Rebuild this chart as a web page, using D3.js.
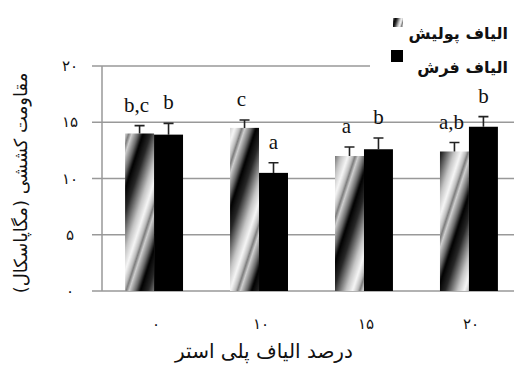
<!DOCTYPE html>
<html>
<head>
    <meta charset="utf-8">
    <title>Tensile strength chart</title>
    <style>
        body { margin: 0; padding: 0; background: #fff; }
        svg { display: block; }
        .fa { font-family: "DejaVu Sans", sans-serif; }
        .letter { font-family: "Liberation Serif", serif; font-size: 21px; fill: #111; }
    </style>
</head>
<body>
    <div id="chart"></div>

    <script src="https://d3js.org/d3.v7.min.js"></script>
    <script>
        // values
        const categories = ['۰', '۱۰', '۱۵', '۲۰'];
        const polishVals = [14.0, 14.5, 12.0, 12.4];
        const polishErr = [0.7, 0.7, 0.8, 0.8];
        const carpetVals = [13.9, 10.5, 12.6, 14.6];
        const carpetErr = [1.0, 0.9, 1.0, 0.9];
        const polishLetters = ['b,c', 'c', 'a', 'a,b'];
        const carpetLetters = ['b', 'a', 'b', 'b'];
        const yTicks = [0, 5, 10, 15, 20];
        const yTickLabels = ['۰', '۵', '۱۰', '۱۵', '۲۰'];
        const seriesNames = ['الیاف پولیش', 'الیاف فرش'];

        const width = 514, height = 369;
        const svg = d3.select('#chart').append('svg')
            .attr('width', width)
            .attr('height', height);

        const x0 = d3.scaleBand().domain(categories).range([102, 521]).paddingInner(0.448).paddingOuter(0.22);
        const x1 = d3.scaleBand().domain([0, 1]).range([0, x0.bandwidth()]);
        const y = d3.scaleLinear().domain([0, 20]).range([291, 66]);

        const defs = svg.append('defs');
        const grad = defs.append('linearGradient')
            .attr('id', 'stripe-g')
            .attr('x1', 0).attr('x2', 1).attr('y1', 0).attr('y2', 0);
        [[0, '#000'], [0.16, '#262626'], [0.42, '#c4c4c4'], [0.56, '#f6f6f6'],
         [0.66, '#bdbdbd'], [0.71, '#7a7a7a'], [0.77, '#cfcfcf'], [0.9, '#6a6a6a'], [1, '#000']]
            .forEach(s => grad.append('stop').attr('offset', s[0]).attr('stop-color', s[1]));

        function stripePattern(id, bx, by, w) {
            const p = defs.append('pattern')
                .attr('id', id)
                .attr('patternUnits', 'userSpaceOnUse')
                .attr('width', w).attr('height', 400)
                .attr('patternTransform', `translate(${bx - 4},${by - 20}) rotate(18)`);
            p.append('rect').attr('width', w).attr('height', 400).attr('fill', 'url(#stripe-g)');
            return `url(#${id})`;
        }

        // gridlines
        svg.append('g').selectAll('line')
            .data(yTicks)
            .enter().append('line')
            .attr('x1', 92)
            .attr('x2', d => d === 20 ? 370 : width)
            .attr('y1', d => y(d))
            .attr('y2', d => y(d))
            .attr('stroke', '#999')
            .attr('stroke-width', 1.5);

        // y axis line
        svg.append('line')
            .attr('x1', 102).attr('x2', 102)
            .attr('y1', y(20)).attr('y2', y(0))
            .attr('stroke', '#999')
            .attr('stroke-width', 1.5);

        // y tick labels
        svg.append('g').selectAll('text')
            .data(yTicks)
            .enter().append('text')
            .attr('class', 'fa')
            .attr('x', 70)
            .attr('y', d => y(d) + 5)
            .attr('text-anchor', 'middle')
            .attr('font-size', 15)
            .attr('fill', '#111')
            .text((d, i) => yTickLabels[i]);

        const groups = svg.append('g').selectAll('g')
            .data(categories)
            .enter().append('g')
            .attr('transform', d => `translate(${x0(d)},0)`);

        // polish (striped) bars
        groups.append('rect')
            .attr('x', x1(0))
            .attr('y', (d, i) => y(polishVals[i]))
            .attr('width', x1.bandwidth())
            .attr('height', (d, i) => y(0) - y(polishVals[i]))
            .attr('fill', (d, i) => stripePattern('st' + i, x0(d) + x1(0), y(polishVals[i]), 46));

        // carpet (black) bars
        groups.append('rect')
            .attr('x', x1(1))
            .attr('y', (d, i) => y(carpetVals[i]))
            .attr('width', x1.bandwidth())
            .attr('height', (d, i) => y(0) - y(carpetVals[i]))
            .attr('fill', '#000');

        // error bars
        function errBar(sel, idx, vals, errs) {
            const cx = x1(idx) + x1.bandwidth() / 2;
            sel.append('path')
                .attr('d', (d, i) => {
                    const t = y(vals[i] + errs[i]), b = y(vals[i]);
                    return `M${cx},${b}V${t}M${cx - 5},${t}H${cx + 5}`;
                })
                .attr('stroke', '#222')
                .attr('stroke-width', 1.6)
                .attr('fill', 'none');
        }
        errBar(groups, 0, polishVals, polishErr);
        errBar(groups, 1, carpetVals, carpetErr);

        // letters
        groups.append('text')
            .attr('class', 'letter')
            .attr('x', x1(0) + x1.bandwidth() / 2 - 3)
            .attr('y', (d, i) => y(polishVals[i] + polishErr[i]) - 14)
            .attr('text-anchor', 'middle')
            .text((d, i) => polishLetters[i]);
        groups.append('text')
            .attr('class', 'letter')
            .attr('x', x1(1) + x1.bandwidth() / 2)
            .attr('y', (d, i) => y(carpetVals[i] + carpetErr[i]) - 14)
            .attr('text-anchor', 'middle')
            .text((d, i) => carpetLetters[i]);

        // x tick labels
        svg.append('g').selectAll('text')
            .data(categories)
            .enter().append('text')
            .attr('class', 'fa')
            .attr('x', d => x0(d) + x0.bandwidth() / 2 + 2)
            .attr('y', 329)
            .attr('text-anchor', 'middle')
            .attr('font-size', 15)
            .attr('fill', '#111')
            .text(d => d);

        // axis titles
        svg.append('text')
            .attr('class', 'fa')
            .attr('x', 264)
            .attr('y', 358)
            .attr('text-anchor', 'middle')
            .attr('font-size', 20)
            .attr('fill', '#111')
            .text('درصد الیاف پلی استر');

        svg.append('text')
            .attr('class', 'fa')
            .attr('transform', 'translate(27,183) rotate(-90)')
            .attr('text-anchor', 'middle')
            .attr('font-size', 18)
            .attr('fill', '#111')
            .text('مقاومت کششی (مگاپاسکال)');

        // legend
        const legend = svg.append('g');
        const legendY = [33, 67];
        legend.selectAll('text')
            .data(seriesNames)
            .enter().append('text')
            .attr('class', 'fa')
            .attr('x', 508)
            .attr('y', (d, i) => legendY[i] + 6)
            .attr('text-anchor', 'end')
            .attr('font-size', 16)
            .attr('font-weight', 'bold')
            .attr('fill', '#111')
            .text(d => d);
        legend.append('rect')
            .attr('x', 393).attr('y', 18)
            .attr('width', 10).attr('height', 9)
            .attr('fill', stripePattern('leg', 393, 18, 12));
        legend.append('rect')
            .attr('x', 391).attr('y', 50)
            .attr('width', 12).attr('height', 12)
            .attr('fill', '#000');
    </script>
</body>
</html>
